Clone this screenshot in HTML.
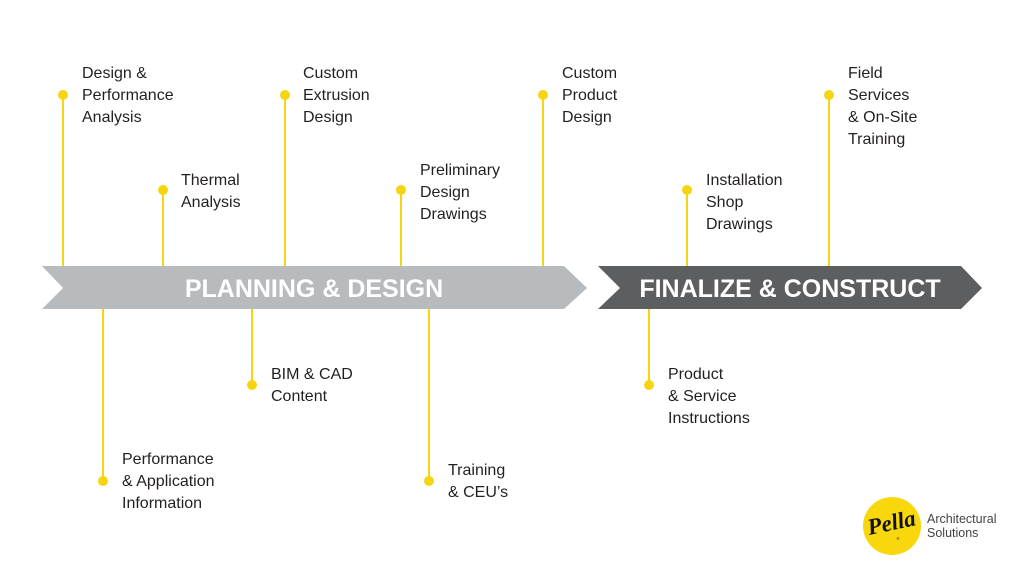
<!DOCTYPE html>
<html>
<head>
<meta charset="utf-8">
<style>
  html,body{margin:0;padding:0;background:#fff;}
  svg{display:block;}
  .t{font-family:"Liberation Sans",Arial,sans-serif;font-size:16px;fill:#231f20;}
  .b{font-family:"Liberation Sans",Arial,sans-serif;font-size:25px;font-weight:bold;fill:#fff;}
  .l{stroke:#f6d40f;stroke-width:2;}
  .d{fill:#f6d40f;}
</style>
</head>
<body>
<svg width="1024" height="576" viewBox="0 0 1024 576" xmlns="http://www.w3.org/2000/svg">
  <rect width="1024" height="576" fill="#fff"/>

  <!-- top connectors -->
  <line class="l" x1="63" y1="95" x2="63" y2="267"/>
  <circle class="d" cx="63" cy="95" r="5"/>
  <line class="l" x1="163" y1="190" x2="163" y2="267"/>
  <circle class="d" cx="163" cy="190" r="5"/>
  <line class="l" x1="285" y1="95" x2="285" y2="267"/>
  <circle class="d" cx="285" cy="95" r="5"/>
  <line class="l" x1="401" y1="190" x2="401" y2="267"/>
  <circle class="d" cx="401" cy="190" r="5"/>
  <line class="l" x1="543" y1="95" x2="543" y2="267"/>
  <circle class="d" cx="543" cy="95" r="5"/>
  <line class="l" x1="687" y1="190" x2="687" y2="267"/>
  <circle class="d" cx="687" cy="190" r="5"/>
  <line class="l" x1="829" y1="95" x2="829" y2="267"/>
  <circle class="d" cx="829" cy="95" r="5"/>

  <!-- bottom connectors -->
  <line class="l" x1="103" y1="308" x2="103" y2="481"/>
  <circle class="d" cx="103" cy="481" r="5"/>
  <line class="l" x1="252" y1="308" x2="252" y2="385"/>
  <circle class="d" cx="252" cy="385" r="5"/>
  <line class="l" x1="429" y1="308" x2="429" y2="481"/>
  <circle class="d" cx="429" cy="481" r="5"/>
  <line class="l" x1="649" y1="308" x2="649" y2="385"/>
  <circle class="d" cx="649" cy="385" r="5"/>

  <!-- arrows -->
  <polygon points="42,266 564,266 587,288 564,309 42,309 63,288" fill="#b8bbbe"/>
  <polygon points="598,266 961,266 982,288 961,309 598,309 620,288" fill="#5d5e60"/>
  <text class="b" x="314" y="297" text-anchor="middle">PLANNING &amp; DESIGN</text>
  <text class="b" x="790" y="297" text-anchor="middle">FINALIZE &amp; CONSTRUCT</text>

  <!-- top labels -->
  <text class="t" x="82" y="78">Design &amp;</text>
  <text class="t" x="82" y="100">Performance</text>
  <text class="t" x="82" y="122">Analysis</text>

  <text class="t" x="181" y="185">Thermal</text>
  <text class="t" x="181" y="207">Analysis</text>

  <text class="t" x="303" y="78">Custom</text>
  <text class="t" x="303" y="100">Extrusion</text>
  <text class="t" x="303" y="122">Design</text>

  <text class="t" x="420" y="175">Preliminary</text>
  <text class="t" x="420" y="197">Design</text>
  <text class="t" x="420" y="219">Drawings</text>

  <text class="t" x="562" y="78">Custom</text>
  <text class="t" x="562" y="100">Product</text>
  <text class="t" x="562" y="122">Design</text>

  <text class="t" x="706" y="185">Installation</text>
  <text class="t" x="706" y="207">Shop</text>
  <text class="t" x="706" y="229">Drawings</text>

  <text class="t" x="848" y="78">Field</text>
  <text class="t" x="848" y="100">Services</text>
  <text class="t" x="848" y="122">&amp; On-Site</text>
  <text class="t" x="848" y="144">Training</text>

  <!-- bottom labels -->
  <text class="t" x="122" y="464">Performance</text>
  <text class="t" x="122" y="486">&amp; Application</text>
  <text class="t" x="122" y="508">Information</text>

  <text class="t" x="271" y="379">BIM &amp; CAD</text>
  <text class="t" x="271" y="401">Content</text>

  <text class="t" x="448" y="475">Training</text>
  <text class="t" x="448" y="497">&amp; CEU’s</text>

  <text class="t" x="668" y="379">Product</text>
  <text class="t" x="668" y="401">&amp; Service</text>
  <text class="t" x="668" y="423">Instructions</text>

  <!-- logo -->
  <circle cx="892" cy="526" r="29" fill="#f8d80c"/>
  <text x="893" y="530" text-anchor="middle" transform="rotate(-12 893 530)" font-family="'Liberation Serif',serif" font-style="italic" font-weight="bold" font-size="23" fill="#111">Pella</text>
  <text x="898" y="540" text-anchor="middle" font-family="'Liberation Sans',sans-serif" font-size="4" fill="#111">®</text>
  <text x="927" y="523" font-family="'Liberation Sans',sans-serif" font-size="12.5" fill="#444">Architectural</text>
  <text x="927" y="537" font-family="'Liberation Sans',sans-serif" font-size="12.5" fill="#444">Solutions</text>
</svg>
</body>
</html>
